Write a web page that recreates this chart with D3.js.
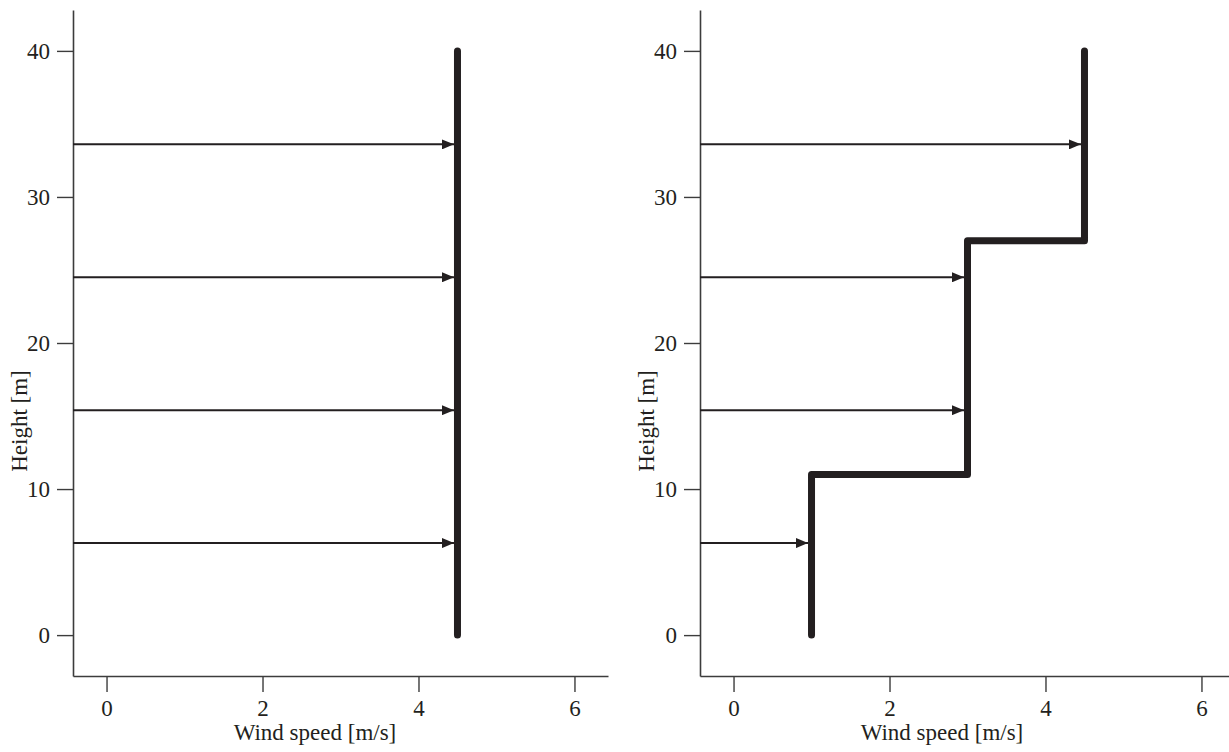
<!DOCTYPE html>
<html>
<head>
<meta charset="utf-8">
<script src="https://cdn.jsdelivr.net/npm/d3@7"></script>
<style>
  html, body { margin: 0; padding: 0; background: #fff; }
  svg text { font-family: "Liberation Serif", "Times New Roman", serif; fill: #231f20; }
</style>
</head>
<body>
<svg id="chart" width="1229" height="752"></svg>
<script>
"use strict";

// values
var xTicks = [0, 2, 4, 6];
var yTicks = [0, 10, 20, 30, 40];
var arrowHeights = [6.3, 15.4, 24.5, 33.6];

// left panel: uniform wind
var leftProfileHeights = [0, 40];
var leftProfileSpeeds = [4.5, 4.5];
var leftArrowSpeeds = [4.5, 4.5, 4.5, 4.5];

// right panel: stepped wind
var rightProfileHeights = [0, 11, 11, 27, 27, 40];
var rightProfileSpeeds = [1, 1, 3, 3, 4.5, 4.5];
var rightArrowSpeeds = [1, 3, 3, 4.5];

var ink = "#231f20";
var fontSize = "23px";
var svg = d3.select("#chart");

svg.append("defs").append("marker")
  .attr("id", "head")
  .attr("markerUnits", "userSpaceOnUse")
  .attr("viewBox", "0 0 12 10")
  .attr("refX", 12)
  .attr("refY", 5)
  .attr("markerWidth", 12)
  .attr("markerHeight", 10)
  .attr("orient", "auto")
  .append("path")
  .attr("d", "M0,0L12,5L0,10Z")
  .style("fill", ink);

var y = d3.scaleLinear().domain([-2.8, 42.8]).range([676, 10]);

function drawPanel(x0, profileHeights, profileSpeeds, arrowSpeeds) {
  var x = d3.scaleLinear().domain([-0.43, 6.43]).range([x0, x0 + 535]);
  var g = svg.append("g");

  var xAxis = g.append("g")
    .attr("transform", "translate(0,676)")
    .call(d3.axisBottom(x).tickValues(xTicks).tickFormat(d3.format("d"))
      .tickSize(16).tickSizeOuter(0).tickPadding(8));
  var yAxis = g.append("g")
    .attr("transform", "translate(" + x0 + ",0)")
    .call(d3.axisLeft(y).tickValues(yTicks).tickFormat(d3.format("d"))
      .tickSize(16).tickSizeOuter(0).tickPadding(7));

  [xAxis, yAxis].forEach(function (a) {
    a.select(".domain").style("stroke", "#3c3c3c").style("stroke-width", 1.6);
    a.selectAll(".tick line").style("stroke", "#3c3c3c").style("stroke-width", 1.4);
    a.selectAll(".tick text")
      .style("font-family", "'Liberation Serif', serif")
      .style("font-size", fontSize)
      .style("fill", ink);
  });

  g.append("text")
    .text("Wind speed [m/s]")
    .attr("x", x0 + 242)
    .attr("y", 740)
    .attr("text-anchor", "middle")
    .style("font-size", fontSize);

  g.append("text")
    .text("Height [m]")
    .attr("transform", "translate(" + (x0 - 46) + ",421) rotate(-90)")
    .attr("text-anchor", "middle")
    .style("font-size", fontSize);

  // arrows from the axis to the profile
  g.selectAll("line.arrow")
    .data(arrowHeights)
    .enter().append("line")
    .attr("class", "arrow")
    .attr("x1", x0)
    .attr("x2", function (d, i) { return x(arrowSpeeds[i]) - 3.5; })
    .attr("y1", function (d) { return y(d); })
    .attr("y2", function (d) { return y(d); })
    .style("stroke", ink)
    .style("stroke-width", 2)
    .attr("marker-end", "url(#head)");

  var pts = profileHeights.map(function (h, i) { return [profileSpeeds[i], h]; });
  var line = d3.line()
    .x(function (d) { return x(d[0]); })
    .y(function (d) { return y(d[1]); });

  g.append("path")
    .datum(pts)
    .attr("d", line)
    .style("fill", "none")
    .style("stroke", ink)
    .style("stroke-width", 7)
    .style("stroke-linecap", "round")
    .style("stroke-linejoin", "round");
}

drawPanel(73, leftProfileHeights, leftProfileSpeeds, leftArrowSpeeds);
drawPanel(700, rightProfileHeights, rightProfileSpeeds, rightArrowSpeeds);
</script>
</body>
</html>
